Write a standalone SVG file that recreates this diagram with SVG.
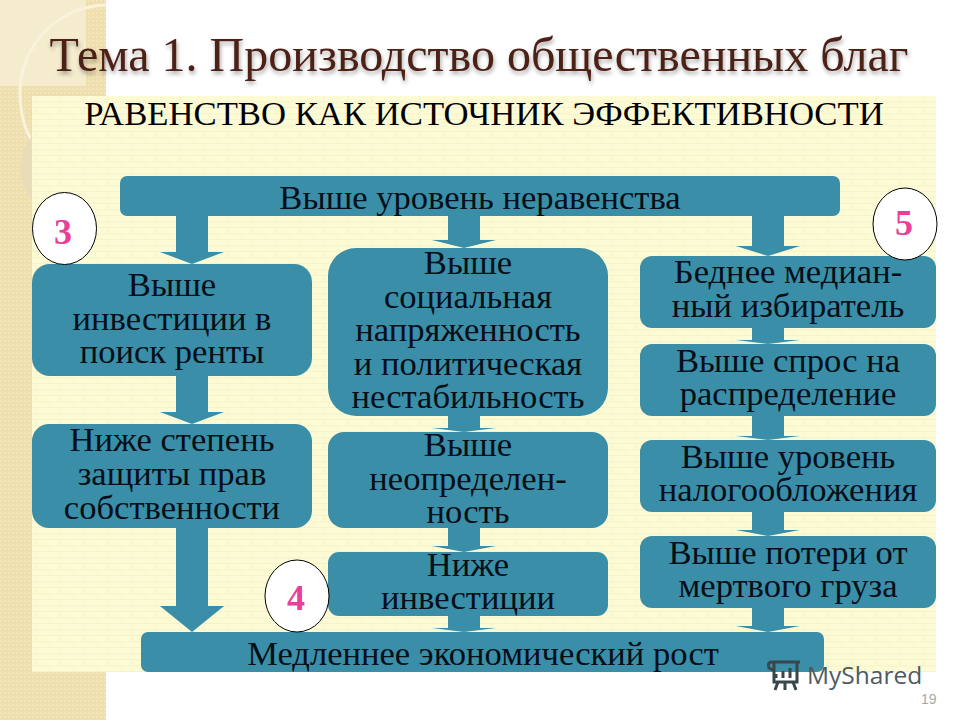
<svg xmlns="http://www.w3.org/2000/svg" width="960" height="720" viewBox="0 0 960 720">
<defs>
<filter id="ts" x="-5%" y="-20%" width="110%" height="150%"><feDropShadow dx="1" dy="3" stdDeviation="2" flood-color="#000" flood-opacity="0.35"/></filter>
<pattern id="tan" width="4" height="4" patternUnits="userSpaceOnUse"><rect width="4" height="4" fill="#efdfae"/><circle cx="1" cy="1" r="1" fill="#f5e9c4"/></pattern>
<pattern id="brick" width="24" height="12" patternUnits="userSpaceOnUse"><rect width="24" height="12" fill="#fdfbd6"/><path d="M0 11.5H24M12 0V6M0 6H24M0 6V12" stroke="#f6f3c8" stroke-width="1" fill="none"/></pattern>
</defs>
<style>
.b{fill:#3a8ea8}
.t{font-family:"Liberation Serif","Times New Roman",serif;font-size:34.6px;fill:#050f18;text-anchor:middle}
.c{fill:#fff;stroke:#000;stroke-width:1}
.n{font-family:"Liberation Serif","Times New Roman",serif;font-size:36px;font-weight:bold;fill:#e8409a;text-anchor:middle}
</style>
<rect width="960" height="720" fill="#fff"/>
<g id="background">
<rect x="0" y="0" width="106" height="720" fill="url(#tan)"/>
<rect x="0" y="0" width="86" height="86" fill="#f6efd6" opacity="0.8"/>
<path d="M106 5A88 88 0 0 0 20 96Q21 125 33 142" fill="none" stroke="#f9f3dd" stroke-width="3"/>
<path d="M32 136A50 50 0 0 0 32 200Z" fill="#e9dcb8"/>
<rect x="32" y="96" width="904" height="576" fill="url(#brick)"/>
</g>
<g id="title">
<text x="479" y="71" font-family="Liberation Serif,Times New Roman,serif" font-size="48" fill="#4d2018" text-anchor="middle" filter="url(#ts)">Тема 1. Производство общественных благ</text>
<text x="484" y="125" font-family="Liberation Serif,Times New Roman,serif" font-size="34.700" fill="#000" text-anchor="middle">РАВЕНСТВО КАК ИСТОЧНИК ЭФФЕКТИВНОСТИ</text>
</g>
<g id="connectors" class="b">
<path d="M176 216H208V252H224L192 264L160 252H176Z"/>
<path d="M448 216H480V240H496L464 248L432 240H448Z"/>
<path d="M752 216H784V246H800L768 256L736 246H752Z"/>
<path d="M176 376H208V412H224L192 424L160 412H176Z"/>
<path d="M176 528H208V606H224L192 632L160 606H176Z"/>
<path d="M448 416H480V428H496L464 432L432 428H448Z"/>
<path d="M448 528H480V546H496L464 552L432 546H448Z"/>
<path d="M448 616H480V628H496L464 632L432 628H448Z"/>
<path d="M752 328H784V340H800L768 344L736 340H752Z"/>
<path d="M752 416H784V436H800L768 440L736 436H752Z"/>
<path d="M752 512H784V530H800L768 536L736 530H752Z"/>
<path d="M752 608H784V626H800L768 632L736 626H752Z"/>
</g>
<g id="n-top"><rect class="b" x="120" y="176" width="720" height="40" rx="7"/><text class="t" x="480" y="209">Выше уровень неравенства</text></g>
<g id="n-l1"><rect class="b" x="32" y="264" width="280" height="112" rx="18"/><text class="t" x="172" y="296">Выше</text><text class="t" x="172" y="330">инвестиции в</text><text class="t" x="172" y="363">поиск ренты</text></g>
<g id="n-l2"><rect class="b" x="32" y="424" width="280" height="104" rx="17"/><text class="t" x="172" y="451">Ниже степень</text><text class="t" x="172" y="485">защиты прав</text><text class="t" x="172" y="519">собственности</text></g>
<g id="n-m1"><rect class="b" x="328" y="248" width="280" height="168" rx="28"/><text class="t" x="468" y="274">Выше</text><text class="t" x="468" y="308">социальная</text><text class="t" x="468" y="341">напряженность</text><text class="t" x="468" y="375">и политическая</text><text class="t" x="468" y="408">нестабильность</text></g>
<g id="n-m2"><rect class="b" x="328" y="432" width="280" height="96" rx="16"/><text class="t" x="468" y="456">Выше</text><text class="t" x="468" y="490">неопределен-</text><text class="t" x="468" y="523">ность</text></g>
<g id="n-m3"><rect class="b" x="328" y="552" width="280" height="64" rx="11"/><text class="t" x="468" y="576">Ниже</text><text class="t" x="468" y="609">инвестиции</text></g>
<g id="n-r1"><rect class="b" x="640" y="256" width="296" height="72" rx="12"/><text class="t" x="788" y="283">Беднее медиан-</text><text class="t" x="788" y="317">ный избиратель</text></g>
<g id="n-r2"><rect class="b" x="640" y="344" width="296" height="72" rx="12"/><text class="t" x="788" y="372">Выше спрос на</text><text class="t" x="788" y="405">распределение</text></g>
<g id="n-r3"><rect class="b" x="640" y="440" width="296" height="72" rx="12"/><text class="t" x="788" y="468">Выше уровень</text><text class="t" x="788" y="501">налогообложения</text></g>
<g id="n-r4"><rect class="b" x="640" y="536" width="296" height="72" rx="12"/><text class="t" x="788" y="564">Выше потери от</text><text class="t" x="788" y="597">мертвого груза</text></g>
<g id="n-bottom"><rect class="b" x="141" y="632" width="683" height="40" rx="7"/><text class="t" x="483" y="665">Медленнее экономический рост</text></g>
<g id="badge-3"><ellipse class="c" cx="64.500" cy="228.500" rx="32" ry="36"/><text class="n" x="63" y="244">3</text></g>
<g id="badge-4"><ellipse class="c" cx="297" cy="596" rx="32" ry="36"/><text class="n" x="296" y="610">4</text></g>
<g id="badge-5"><ellipse class="c" cx="905" cy="224" rx="32" ry="36"/><text class="n" x="904" y="235">5</text></g>
<g id="watermark">
<path d="M772 662H800M774 662V682H797V662M772 662Q767 662 769 668L773 670M776 678V674M783 678V671M790 678V668M778 682L775 690M793 682L796 690M785 682V690" fill="none" stroke="#37474a" stroke-width="3"/>
<text x="807" y="684" font-family="Open Sans,DejaVu Sans,sans-serif" font-size="24.500" fill="#4e5b5e">MyShared</text>
<text x="921" y="704" font-family="Liberation Sans,Arial,sans-serif" font-size="14" fill="#a8a8a8">19</text>
</g>
</svg>
